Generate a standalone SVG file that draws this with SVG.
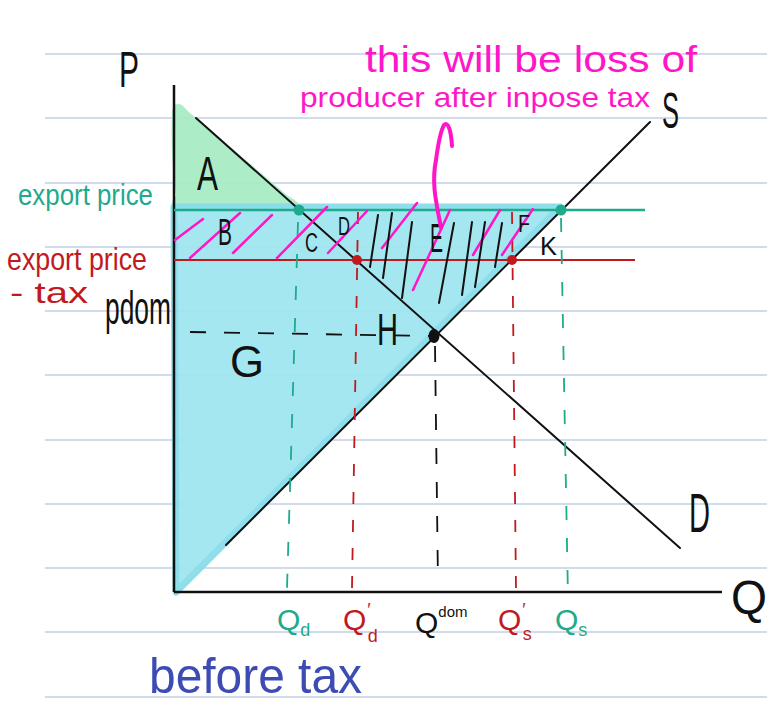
<svg xmlns="http://www.w3.org/2000/svg" width="767" height="703" viewBox="0 0 767 703">
<style>
text{font-family:"Liberation Sans",Arial,sans-serif}
.rule{stroke:#c3cfe4;stroke-width:1.5}
.ax{stroke:#111;stroke-width:2.5;fill:none}
.crv{stroke:#111;stroke-width:2;fill:none;stroke-linecap:round}
.blk{fill:#111}
.teal{fill:#1faa8c}
.red{fill:#c01a1e}
.pink{fill:#ff16c8}
.blue{fill:#3d4cb2}
.ph{stroke:#ff16c8;stroke-width:2.5;stroke-linecap:round;fill:none}
.bh{stroke:#111;stroke-width:2;stroke-linecap:round;fill:none}
.dt{stroke:#1faa8c;stroke-width:1.8;stroke-dasharray:14 18;fill:none}
.dr{stroke:#c01a1e;stroke-width:1.8;stroke-dasharray:12 16;fill:none}
.dk{stroke:#111;stroke-width:1.8;stroke-dasharray:16 18;fill:none}
</style>
<rect width="767" height="703" fill="#fff"/>
<g id="ruled-paper">
<line class="rule" x1="45" y1="54" x2="767" y2="54"/>
<line class="rule" x1="45" y1="118" x2="767" y2="118"/>
<line class="rule" x1="45" y1="183" x2="767" y2="183"/>
<line class="rule" x1="45" y1="247" x2="767" y2="247"/>
<line class="rule" x1="45" y1="311" x2="767" y2="311"/>
<line class="rule" x1="45" y1="375" x2="767" y2="375"/>
<line class="rule" x1="45" y1="440" x2="767" y2="440"/>
<line class="rule" x1="45" y1="504" x2="767" y2="504"/>
<line class="rule" x1="45" y1="568" x2="767" y2="568"/>
<line class="rule" x1="45" y1="632" x2="767" y2="632"/>
<line class="rule" x1="45" y1="697" x2="767" y2="697"/>
</g>
<g id="area-A">
<path d="M172,112 Q173,101 182,105 Q188,112 196,118 L288,196 Q304,204 300,212 L172,212 Q170,200 176,196 Q170,150 172,112 Z" fill="#a8ecc4" opacity="0.95"/>
</g>
<g id="area-blue">
<path d="M174,207 L560,207 L176,592 Z" fill="#9ee6f0" stroke="#86dceb" stroke-width="7" stroke-linejoin="round" opacity="0.92"/>
</g>
<g id="axes">
<line class="ax" x1="174" y1="85" x2="174" y2="592"/>
<line class="ax" x1="174" y1="592" x2="722" y2="592"/>
<text x="119" y="87" font-size="50" textLength="20" lengthAdjust="spacingAndGlyphs" class="blk">P</text>
<text x="731" y="614" font-size="48" textLength="36" lengthAdjust="spacingAndGlyphs" class="blk">Q</text>
</g>
<g id="curves">
<line class="crv" x1="196" y1="118" x2="680" y2="548"/>
<line class="crv" x1="226" y1="545" x2="650" y2="122"/>
<text x="662" y="128" font-size="50" textLength="17" lengthAdjust="spacingAndGlyphs" class="blk">S</text>
<text x="689" y="532" font-size="56" textLength="21" lengthAdjust="spacingAndGlyphs" class="blk">D</text>
</g>
<g id="price-lines">
<line x1="174" y1="210" x2="645" y2="210" stroke="#1faa8c" stroke-width="2.5"/>
<line x1="174" y1="260" x2="635" y2="260" stroke="#c01a1e" stroke-width="2"/>
<text x="18" y="205" font-size="30" textLength="135" lengthAdjust="spacingAndGlyphs" class="teal">export price</text>
<text x="7" y="270" font-size="32" textLength="140" lengthAdjust="spacingAndGlyphs" class="red">export price</text>
<text x="10" y="303" font-size="30" textLength="78" lengthAdjust="spacingAndGlyphs" class="red">- tax</text>
<text x="105" y="324" font-size="46" textLength="66" lengthAdjust="spacingAndGlyphs" class="blk">pdom</text>
</g>
<g id="dashed-guides">
<path class="dt" d="M298,222 L287,588"/>
<path class="dr" d="M358,212 L352,588"/>
<path class="dk" d="M435,346 L438,584"/>
<path class="dr" d="M512,212 L516,590"/>
<path class="dt" d="M561,218 L568,598"/>
<path class="dk" d="M190,332 L430,336"/>
</g>
<g id="hatching">
<path class="ph" d="M175,240 L203,219"/>
<path class="ph" d="M190,258 L240,213"/>
<path class="ph" d="M233,253 L272,215"/>
<path class="ph" d="M277,258 L327,207"/>
<path class="ph" d="M328,253 L367,211"/>
<path class="ph" d="M382,248 L417,203"/>
<path class="ph" d="M413,290 L450,210"/>
<path class="ph" d="M473,255 L500,210"/>
<path class="ph" d="M502,255 L533,209"/>
<path class="bh" d="M378,215 L370,267"/>
<path class="bh" d="M392,213 L383,278"/>
<path class="bh" d="M412,222 L402,298"/>
<path class="bh" d="M454,223 L439,303"/>
<path class="bh" d="M472,222 L462,295"/>
<path class="bh" d="M485,222 L475,287"/>
<path class="bh" d="M502,223 L495,267"/>
</g>
<g id="points">
<circle cx="299" cy="210" r="5.5" fill="#1faa8c"/>
<circle cx="561" cy="210" r="5.5" fill="#1faa8c"/>
<circle cx="357" cy="260" r="5" fill="#c01a1e"/>
<circle cx="512" cy="260" r="5" fill="#c01a1e"/>
<ellipse cx="434" cy="336" rx="5.5" ry="7" fill="#111"/>
</g>
<g id="area-labels">
<text x="197" y="190" font-size="48" textLength="21" lengthAdjust="spacingAndGlyphs" class="blk">A</text>
<text x="218" y="245" font-size="36" textLength="14" lengthAdjust="spacingAndGlyphs" class="blk">B</text>
<text x="305" y="252" font-size="27" textLength="13" lengthAdjust="spacingAndGlyphs" class="blk">C</text>
<text x="338" y="235" font-size="25" textLength="12" lengthAdjust="spacingAndGlyphs" class="blk">D</text>
<text x="430" y="252" font-size="40" textLength="13" lengthAdjust="spacingAndGlyphs" class="blk">E</text>
<text x="518" y="232" font-size="24" textLength="12" lengthAdjust="spacingAndGlyphs" class="blk">F</text>
<text x="540" y="255" font-size="25" textLength="17" lengthAdjust="spacingAndGlyphs" class="blk">K</text>
<text x="377" y="345" font-size="44" textLength="21" lengthAdjust="spacingAndGlyphs" class="blk">H</text>
<text x="230" y="377" font-size="44" textLength="34" lengthAdjust="spacingAndGlyphs" class="blk">G</text>
</g>
<g id="quantity-labels">
<text x="277" y="630" class="teal"><tspan font-size="30">Q</tspan><tspan font-size="18" dy="6">d</tspan></text>
<text x="343" y="630" class="red"><tspan font-size="30">Q</tspan><tspan font-size="18" dx="1" dy="-14">′</tspan><tspan font-size="18" dx="-3" dy="26">d</tspan></text>
<text x="415" y="633" class="blk"><tspan font-size="30">Q</tspan><tspan font-size="15" dy="-16">dom</tspan></text>
<text x="498" y="630" class="red"><tspan font-size="30">Q</tspan><tspan font-size="18" dx="1" dy="-14">′</tspan><tspan font-size="18" dx="-3" dy="24">s</tspan></text>
<text x="555" y="630" class="teal"><tspan font-size="30">Q</tspan><tspan font-size="18" dy="6">s</tspan></text>
</g>
<g id="annotation">
<text x="365" y="72" font-size="36" textLength="332" lengthAdjust="spacingAndGlyphs" class="pink">this will be loss of</text>
<text x="300" y="107" font-size="28" textLength="350" lengthAdjust="spacingAndGlyphs" class="pink">producer after inpose tax</text>
<path d="M441,228 C437,205 431,185 436,160 C438,145 440,132 444,125 C448,121 451,130 452,146" stroke="#ff16c8" stroke-width="4" fill="none" stroke-linecap="round"/>
</g>
<g id="caption">
<text x="149" y="693" font-size="50" textLength="213" lengthAdjust="spacingAndGlyphs" class="blue">before tax</text>
</g>
</svg>
